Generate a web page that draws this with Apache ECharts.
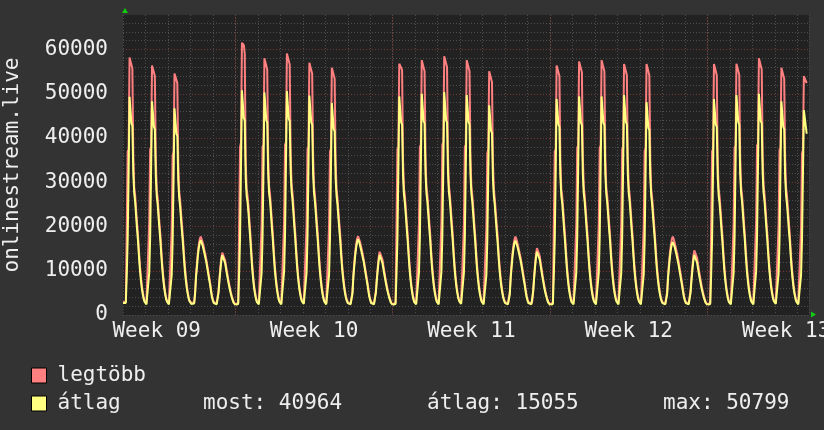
<!DOCTYPE html>
<html>
<head>
<meta charset="utf-8">
<script src="https://cdn.jsdelivr.net/npm/echarts@6/dist/echarts.min.js"></script>
<style>
html,body{margin:0;padding:0;background:#333333;}
#chart{width:824px;height:430px;}
</style>
</head>
<body>
<div id="chart"></div>
<script>
// ---- data (hourly samples, day 0 = Wednesday 00:00 of Week 09) ----
const hoursPerDay = 24;
const xMaxDays = 30.52;
const yMax = 67800;
const weekLabelDays = [1.5, 8.5, 15.5, 22.5, 29.5];
const weekLabels = ['Week 09', 'Week 10', 'Week 11', 'Week 12', 'Week 13'];
const weekStartDays = [5, 12, 19, 26];
const seriesNames = ['legtöbb', 'átlag'];
const statNow = 40964;
const statAvg = 15055;
const statMax = 50799;

// legtöbb (max)
const maxValues = [
  2900,2700,2600,3000,20000,37000,37500,58200,58200,57800,55700,36000,28800,27000,23800,20800,18200,14500,11400,8900,6900,5300,4100,3200,
  2800,2600,2500,2900,21000,37500,38000,56400,56400,56000,54000,35500,28300,26500,23400,20500,17900,14300,11300,8800,6800,5200,4000,3200,
  2800,2600,2500,2900,19500,36000,37000,54600,54600,54200,52400,34500,27800,26000,23000,20200,17600,14100,11200,8900,7000,5400,4200,3300,
  2900,2700,2600,2600,2900,5300,9200,11800,14300,16000,17200,17700,17300,16500,15600,14600,13600,12500,11200,9900,8600,7300,5800,4400,
  3500,2900,2700,2600,2600,3000,5500,8300,10800,12900,14100,14500,13800,12400,11100,9800,8600,7400,6300,5300,4400,3700,3000,2600,
  2500,2400,2400,2700,20500,38000,39000,61500,61500,61000,59000,35000,28500,27000,24500,21300,18300,14700,11400,8800,6700,5200,4000,3100,
  2800,2600,2500,2900,20500,38000,38500,58000,58000,57600,55500,36000,29000,27300,24300,21100,18300,14600,11500,9000,7000,5400,4100,3200,
  2800,2600,2500,2900,21000,38500,39000,59100,59100,58700,56600,36500,29500,27500,24500,21300,18400,14700,11600,9000,7000,5400,4200,3300,
  2900,2700,2600,3000,20500,37500,38000,57000,57000,56600,54500,35800,29000,27000,24100,21000,18200,14500,11400,8900,6900,5300,4100,3200,
  2800,2600,2500,2900,20000,37000,37500,55900,55900,55500,53400,35000,28500,26500,23500,20700,18000,14400,11400,9000,7100,5500,4300,3400,
  2900,2700,2600,2600,2900,5300,9200,11900,14400,16100,17300,17800,17400,16600,15700,14700,13700,12600,11300,10000,8700,7400,5900,4400,
  3600,2900,2700,2600,2600,3000,5500,8300,10800,13000,14300,14700,14000,12600,11200,9900,8600,7400,6300,5300,4400,3700,3000,2600,
  2500,2400,2400,2700,20000,37500,38000,56800,56800,56400,55400,35000,28700,27000,24000,20900,18100,14500,11300,8800,6700,5200,4000,3100,
  2800,2600,2500,2900,20500,38000,38500,57600,57600,57200,55100,35800,29000,27200,24200,21100,18300,14600,11500,9000,7000,5400,4200,3200,
  2800,2600,2500,2900,21000,38500,39000,58500,58500,58100,56000,36000,29200,27300,24300,21200,18400,14700,11600,9000,7000,5400,4200,3300,
  2900,2700,2600,3000,20500,38000,38500,57600,57600,57200,55100,35800,29000,27000,24100,21000,18200,14500,11400,8900,6900,5300,4100,3200,
  2800,2600,2500,2900,19800,36500,37500,55100,55100,54700,52600,34800,28300,26300,23300,20500,17800,14300,11300,9000,7100,5500,4300,3400,
  2900,2700,2600,2600,2900,5200,9100,11800,14200,15900,17100,17700,17200,16400,15500,14500,13500,12400,11100,9800,8500,7200,5700,4300,
  3500,2900,2700,2600,2600,3100,5800,8800,11500,13700,15100,15500,14800,13300,11800,10400,9000,7700,6500,5400,4500,3700,3000,2600,
  2500,2400,2400,2700,19800,37000,37500,56400,56400,56000,54000,34800,28500,26800,23900,20800,18000,14500,11300,8800,6700,5200,4000,3100,
  2800,2600,2500,2900,20500,37800,38300,57300,57300,56900,54800,35600,28900,27000,24100,21000,18200,14500,11400,8900,6900,5300,4100,3200,
  2800,2600,2500,2900,20500,37800,38300,57600,57600,57200,55100,35600,28900,27000,24100,21000,18200,14500,11400,8900,6900,5300,4100,3200,
  2800,2600,2500,2900,20500,37500,38000,56700,56700,56300,54200,35600,29000,27100,24100,21000,18200,14500,11400,8900,6900,5300,4100,3200,
  2800,2600,2500,2900,20000,37000,37800,56700,56700,56300,54200,35200,28500,26500,23600,20700,18000,14400,11400,9000,7100,5500,4300,3400,
  2900,2700,2600,2600,2900,5200,9000,11700,14100,15800,17100,17700,17200,16400,15500,14500,13500,12400,11100,9800,8500,7200,5700,4300,
  3500,2900,2700,2600,2600,3000,5600,8500,11100,13300,14600,15000,14300,12900,11500,10100,8800,7600,6400,5400,4500,3700,3000,2600,
  2500,2400,2400,2700,19800,37000,37500,56700,56700,56300,54200,34800,28500,26800,23900,20800,18000,14500,11300,8800,6700,5200,4000,3100,
  2800,2600,2500,2900,20500,37800,38300,56800,56800,56400,54300,35600,29000,27100,24100,21000,18200,14500,11400,8900,6900,5300,4100,3200,
  2800,2600,2500,2900,21000,38300,38800,58000,58000,57600,55500,36000,29200,27300,24300,21100,18300,14600,11500,9000,7000,5400,4200,3300,
  2900,2700,2600,3000,20300,37300,37800,55900,55900,55500,53400,35400,28800,27000,24000,20900,18100,14500,11300,8800,6800,5200,4100,3200,
  2800,2600,2500,2900,19800,36500,37300,54000,54000,54000,52400
];

// átlag (average)
const avgValues = [
  2700,2500,2400,2700,9000,17000,32000,49300,49000,43300,42800,32000,27500,25500,22400,19400,16800,13400,10400,8100,6200,4800,3700,3000,
  2600,2400,2300,2600,9500,17500,33000,48300,48000,42500,42000,31500,27000,25000,22000,19200,16500,13200,10300,8000,6100,4700,3600,3000,
  2600,2400,2300,2600,9000,16500,31000,46700,46400,41000,40500,30500,26500,24500,21500,18800,16200,13000,10200,8000,6200,4900,3800,3100,
  2700,2500,2400,2400,2600,4800,8600,11000,13500,15200,16400,16900,16500,15700,14800,13900,12900,11900,10600,9300,8000,6800,5300,4000,
  3200,2700,2500,2400,2400,2700,5000,7800,10200,12300,13500,13900,13200,11800,10500,9200,8000,6900,5800,4900,4100,3400,2800,2400,
  2300,2200,2200,2500,9500,17500,33500,50800,50500,44500,44000,31000,27000,25500,23000,19800,16900,13500,10400,8000,6000,4700,3600,2900,
  2600,2400,2300,2600,9500,17500,33000,50300,50000,44000,43500,32000,27500,25800,22800,19600,16900,13500,10500,8200,6300,4900,3700,3000,
  2600,2400,2300,2600,9800,18000,34000,50600,50300,44300,43800,32500,28000,26000,23000,19800,17000,13600,10600,8200,6300,4900,3800,3100,
  2700,2500,2400,2700,9500,17500,33000,49600,49300,43500,43000,31800,27500,25500,22600,19500,16800,13400,10400,8100,6200,4800,3700,3000,
  2600,2400,2300,2600,9000,17000,32000,47900,47600,42000,41500,31000,27000,25000,22000,19200,16600,13300,10400,8200,6400,5000,3900,3200,
  2700,2500,2400,2400,2600,4800,8600,11200,13600,15300,16600,17100,16600,15800,14900,14000,13000,12000,10700,9400,8100,6900,5400,4100,
  3300,2700,2500,2400,2400,2700,5000,7800,10200,12300,13600,13900,13200,11800,10500,9200,8000,6900,5800,4900,4100,3400,2800,2400,
  2300,2200,2200,2500,9000,17000,32500,49400,49100,43500,43000,31500,27200,25300,22500,19400,16700,13300,10300,8000,6100,4700,3600,2900,
  2600,2400,2300,2600,9500,17500,33000,50000,49700,43800,43300,32000,27500,25600,22700,19600,16900,13500,10500,8200,6300,4900,3800,3000,
  2600,2400,2300,2600,9800,18000,33500,50400,50100,44000,43500,32200,27700,25800,22800,19700,17000,13600,10600,8200,6300,4900,3800,3100,
  2700,2500,2400,2700,9500,17500,33000,49700,49400,43600,43100,31800,27400,25500,22600,19500,16800,13400,10400,8100,6200,4800,3700,3000,
  2600,2400,2300,2600,9000,16800,31500,47400,47100,41600,41100,30800,26800,24800,21800,19000,16400,13200,10300,8100,6300,5000,3900,3200,
  2700,2500,2400,2400,2600,4700,8500,11000,13400,15100,16300,16800,16400,15600,14700,13800,12800,11800,10500,9200,7900,6700,5200,4000,
  3200,2700,2500,2400,2400,2800,5300,8300,10900,13000,14300,14700,14000,12500,11100,9700,8400,7200,6000,5000,4200,3400,2800,2400,
  2300,2200,2200,2500,9000,17000,32000,48800,48500,43000,42500,31300,27000,25200,22400,19300,16600,13300,10300,8000,6100,4700,3600,2900,
  2600,2400,2300,2600,9500,17500,32800,49400,49100,43400,42900,31800,27400,25500,22600,19500,16800,13400,10400,8100,6200,4800,3700,3000,
  2600,2400,2300,2600,9500,17500,32800,49400,49100,43400,42900,31800,27400,25500,22600,19500,16800,13400,10400,8100,6200,4800,3700,3000,
  2600,2400,2300,2600,9500,17500,33000,49700,49400,43600,43100,31900,27500,25600,22600,19500,16800,13400,10400,8100,6200,4800,3700,3000,
  2600,2400,2300,2600,9200,17000,32200,48100,47800,42300,41800,31200,27000,25000,22100,19200,16600,13300,10400,8200,6400,5000,3900,3200,
  2700,2500,2400,2400,2600,4700,8400,10900,13200,14900,16000,16500,16100,15400,14500,13600,12600,11600,10300,9100,7800,6600,5200,4000,
  3200,2700,2500,2400,2400,2700,5000,7800,10200,12300,13600,13900,13200,11800,10500,9200,8000,6900,5800,4900,4100,3400,2800,2400,
  2300,2200,2200,2500,9000,17000,32000,48800,48500,43000,42500,31300,27000,25200,22400,19300,16600,13300,10300,8000,6100,4700,3600,2900,
  2600,2400,2300,2600,9500,17500,33000,49700,49400,43600,43100,31900,27500,25600,22600,19500,16800,13400,10400,8100,6200,4800,3700,3000,
  2600,2400,2300,2600,9800,17800,33300,50000,49700,43800,43300,32000,27600,25700,22700,19600,16900,13500,10500,8200,6300,4900,3800,3100,
  2700,2500,2400,2700,9300,17200,32300,48300,48000,42500,42000,31200,27000,25000,22200,19200,16600,13300,10300,8000,6100,4800,3700,3000,
  2600,2400,2300,2600,9000,16800,31500,46300,46300,46000,40964
];

// ---- chart ----
const FONT = 'DejaVu Sans Mono';
const TXT = '#eeeeee';
const RED = '#ff8080';
const YEL = '#ffff80';
const MINOR = '#4e4e4e';
const MAJOR = '#7a3636';

const toPairs = arr => arr.map((v, i) => [i / hoursPerDay, v]);

const legendCommon = {
  orient: 'vertical', left: 31, padding: 0,
  itemWidth: 15, itemHeight: 15, itemGap: 0,
  icon: 'rect',
  itemStyle: {borderColor: '#000000', borderWidth: 1},
  textStyle: {color: TXT, fontFamily: FONT, fontSize: 21, padding: [0, 0, 0, 6]},
  selectedMode: false
};

const chart = echarts.init(document.getElementById('chart'), null, {renderer: 'canvas'});
const option = {
  backgroundColor: '#333333',
  animation: false,
  textStyle: {fontFamily: FONT},
  grid: {left: 123, right: 15, top: 15, bottom: 115, show: true, backgroundColor: '#222222', borderWidth: 0,
         containLabel: false, outerBoundsMode: 'none'},
  legend: [
    Object.assign({}, legendCommon, {data: [seriesNames[0]], top: 365}),
    Object.assign({}, legendCommon, {data: [seriesNames[1]], top: 393})
  ],
  xAxis: [{
    type: 'value', min: 0, max: xMaxDays, interval: 1,
    axisLine: {show: false}, axisTick: {show: false},
    splitLine: {show: true, lineStyle: {color: MINOR, type: [1, 2], width: 1}},
    axisLabel: {
      show: true, customValues: weekLabelDays, margin: 6,
      alignMinLabel: 'center', alignMaxLabel: 'center', hideOverlap: false,
      color: TXT, fontFamily: FONT, fontSize: 21,
      formatter: v => weekLabels[weekLabelDays.indexOf(v)] || ''
    }
  }],
  yAxis: [{
    type: 'value', min: 0, max: yMax, interval: 2000,
    axisLine: {show: false}, axisTick: {show: false}, axisLabel: {show: false},
    splitLine: {show: true, showMaxLine: false, lineStyle: {color: MINOR, type: [1, 2], width: 1}}
  }, {
    type: 'value', min: 0, max: yMax, interval: 10000, position: 'left',
    axisLine: {show: false}, axisTick: {show: false},
    axisLabel: {color: TXT, fontFamily: FONT, fontSize: 21, margin: 15, showMaxLabel: false,
                formatter: v => String(v)},
    splitLine: {show: true, showMaxLine: false, showMinLine: false, lineStyle: {color: MAJOR, type: [1, 2], width: 1}},
    name: 'onlinestream.live', nameLocation: 'middle', nameGap: 100, nameRotate: 90,
    nameTextStyle: {color: TXT, fontFamily: FONT, fontSize: 21}
  }],
  series: [{
    name: '_weekgrid', type: 'line', data: [], z: 1, silent: true,
    markLine: {
      silent: true, symbol: ['none', 'none'], label: {show: false},
      lineStyle: {color: MAJOR, type: [1, 2], width: 1},
      data: weekStartDays.map(d => ({xAxis: d}))
    }
  }, {
    name: seriesNames[0], type: 'line', data: toPairs(maxValues),
    showSymbol: false, symbol: 'none', color: RED,
    lineStyle: {color: RED, width: 2}, z: 2
  }, {
    name: seriesNames[1], type: 'line', data: toPairs(avgValues),
    showSymbol: false, symbol: 'none', color: YEL,
    lineStyle: {color: YEL, width: 2}, z: 3
  }]
};
chart.setOption(option);

// arrows at axis ends and statistics text
const topLeft = chart.convertToPixel({gridIndex: 0}, [0, yMax]);
const botRight = chart.convertToPixel({gridIndex: 0}, [xMaxDays, 0]);
const statRowY = 405;
chart.setOption({
  graphic: [
    {type: 'polygon', shape: {points: [[topLeft[0] + 2, topLeft[1] - 7], [topLeft[0] - 1, topLeft[1] - 2], [topLeft[0] + 5, topLeft[1] - 2]]}, style: {fill: '#11cc11'}, silent: true},
    {type: 'polygon', shape: {points: [[botRight[0] + 7, botRight[1] - 0.5], [botRight[0] + 2, botRight[1] - 3.5], [botRight[0] + 2, botRight[1] + 2.5]]}, style: {fill: '#11cc11'}, silent: true},
    {type: 'text', left: 203, top: statRowY - 12, style: {text: 'most: ' + statNow, fill: TXT, font: '21px "' + FONT + '"'}},
    {type: 'text', left: 427, top: statRowY - 12, style: {text: 'átlag: ' + statAvg, fill: TXT, font: '21px "' + FONT + '"'}},
    {type: 'text', left: 663, top: statRowY - 12, style: {text: 'max: ' + statMax, fill: TXT, font: '21px "' + FONT + '"'}}
  ]
});
</script>
</body>
</html>
